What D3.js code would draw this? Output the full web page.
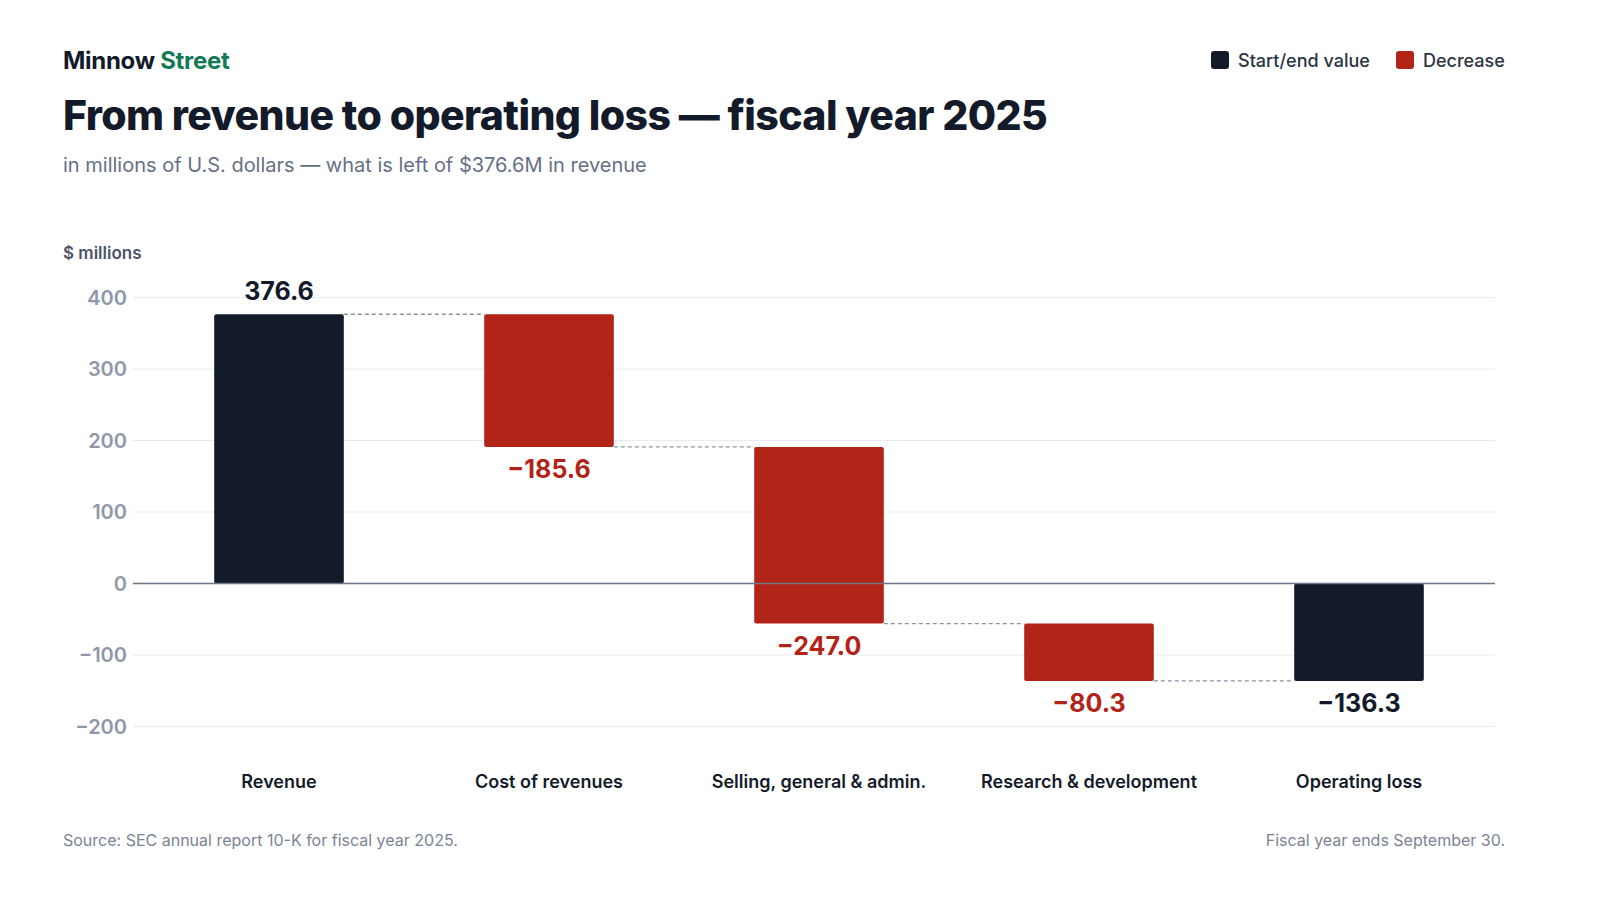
<!DOCTYPE html>
<html><head><meta charset="utf-8">
<script src="https://cdn.jsdelivr.net/npm/d3@7"></script>
<style>
body{margin:0;background:#fff;font-family:Inter,"Noto Sans",sans-serif;}
</style></head>
<body><svg id="c" width="1600" height="900"></svg>
<script>
const categories = ["Revenue","Cost of revenues","Selling, general & admin.","Research & development","Operating loss"];
const values = [376.6,-185.6,-247.0,-80.3,-136.3];
const kinds = ["total","decrease","decrease","decrease","total"];
const yTicks = [-200,-100,0,100,200,300,400];

const svg = d3.select("#c");
const ink = "#131a29", red = "#b22318", grey = "#8f98a8";

// waterfall steps
let run = 0;
const steps = values.map((v,i) => {
  if (kinds[i] === "total") { run = v; return {c:categories[i], v, y0:0, y1:v, k:kinds[i]}; }
  const s = {c:categories[i], v, y0:run, y1:run+v, k:kinds[i]}; run += v; return s;
});

const x = d3.scaleBand().domain(categories).range([144,1494]).paddingInner(0.52).paddingOuter(0.26);
const y = d3.scaleLinear().domain([-200,400]).range([726.5,297.5]);

// header
const t = svg.append("text").attr("x",63).attr("y",69).attr("font-size",24).attr("font-weight",700).attr("fill",ink).attr("letter-spacing",-0.3);
t.append("tspan").text("Minnow ");
t.append("tspan").attr("fill","#127a55").text("Street");
svg.append("text").attr("x",63).attr("y",130).attr("font-size",41).attr("font-weight",800).attr("fill",ink)
  .attr("letter-spacing",-0.6).text("From revenue to operating loss — fiscal year 2025");
svg.append("text").attr("x",63).attr("y",172).attr("font-size",20).attr("fill","#667085")
  .text("in millions of U.S. dollars — what is left of $376.6M in revenue");
svg.append("text").attr("x",63).attr("y",259).attr("font-size",17).attr("font-weight",600).attr("fill","#4b5565").text("$ millions");

// legend
const leg = [["Start/end value",ink],["Decrease",red]];
const lx = [1211,1396];
leg.forEach((d,i)=>{
  svg.append("rect").attr("x",lx[i]).attr("y",51).attr("width",18).attr("height",18).attr("rx",3).attr("fill",d[1]);
  svg.append("text").attr("x",lx[i]+27).attr("y",67).attr("font-size",18).attr("font-weight",500).attr("fill","#2b3443").text(d[0]);
});

// grid + y axis
svg.append("g").selectAll("line").data(yTicks.filter(d=>d!==0)).join("line")
  .attr("x1",133).attr("x2",1495).attr("y1",d=>y(d)).attr("y2",d=>y(d)).attr("stroke","#e8eaee");
svg.append("g").selectAll("text").data(yTicks).join("text")
  .attr("x",127).attr("y",d=>y(d)+7).attr("text-anchor","end").attr("font-size",20).attr("font-weight",600).attr("fill",grey)
  .text(d=>d<0?"−"+Math.abs(d):d);

// connectors
svg.append("g").selectAll("line").data(steps.slice(0,-1)).join("line")
  .attr("x1",(d)=>x(d.c)+x.bandwidth()).attr("x2",(d,i)=>x(categories[i+1]))
  .attr("y1",d=>y(d.y1)).attr("y2",d=>y(d.y1))
  .attr("stroke","#8a93a3").attr("stroke-dasharray","4,3").attr("stroke-width",1.3);

// bars
svg.append("g").selectAll("rect").data(steps).join("rect")
  .attr("x",d=>x(d.c)).attr("width",x.bandwidth())
  .attr("y",d=>y(Math.max(d.y0,d.y1))).attr("height",d=>Math.abs(y(d.y0)-y(d.y1)))
  .attr("rx",2).attr("fill",d=>d.k==="total"?ink:red);

// zero line
svg.append("line").attr("x1",133).attr("x2",1495).attr("y1",y(0)).attr("y2",y(0)).attr("stroke","#6b7585").attr("stroke-width",1.3);

// value labels
const fmt = v => (v<0?"−":"")+Math.abs(v).toFixed(1);
svg.append("g").selectAll("text").data(steps).join("text")
  .attr("x",d=>x(d.c)+x.bandwidth()/2)
  .attr("y",d=>d.v>=0? y(d.y1)-14 : y(Math.min(d.y0,d.y1))+31)
  .attr("text-anchor","middle").attr("font-size",25).attr("font-weight",700)
  .attr("fill",d=>d.k==="total"?ink:red).text(d=>fmt(d.v));

// category labels
svg.append("g").selectAll("text").data(categories).join("text")
  .attr("x",d=>x(d)+x.bandwidth()/2).attr("y",788).attr("text-anchor","middle")
  .attr("font-size",18).attr("font-weight",600).attr("fill",ink).text(d=>d);

// footer
svg.append("text").attr("x",63).attr("y",846).attr("font-size",16).attr("fill","#7a8494").text("Source: SEC annual report 10-K for fiscal year 2025.");
svg.append("text").attr("x",1505).attr("y",846).attr("text-anchor","end").attr("font-size",16).attr("fill","#7a8494").text("Fiscal year ends September 30.");
</script></body></html>
